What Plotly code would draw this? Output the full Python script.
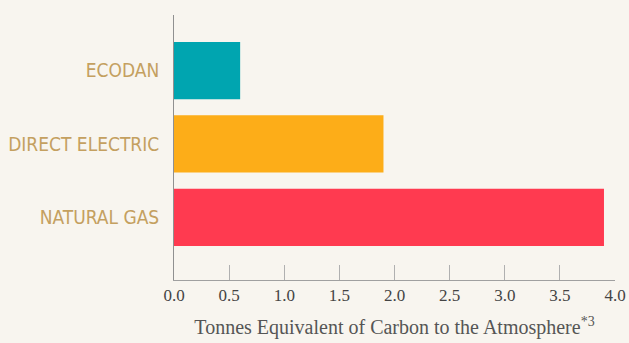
import plotly.graph_objects as go

categories = ["NATURAL GAS", "DIRECT ELECTRIC", "ECODAN"]
values = [3.9, 1.9, 0.6]
colors = ["#ff3a50", "#fdad18", "#00a5b0"]
tick_vals = [0, 0.5, 1, 1.5, 2, 2.5, 3, 3.5, 4]
tick_text = ["0.0", "0.5", "1.0", "1.5", "2.0", "2.5", "3.0", "3.5", "4.0"]
x_title = "Tonnes Equivalent of Carbon to the Atmosphere<sup>*3</sup>"

bg = "#f8f5ef"

fig = go.Figure(go.Bar(
    x=values, y=categories, orientation="h",
    marker=dict(color=colors, line=dict(width=0)),
    hoverinfo="skip",
))

fig.update_layout(
    width=629, height=343,
    margin=dict(l=174, r=14, t=15, b=63),
    paper_bgcolor=bg, plot_bgcolor=bg,
    bargap=0.22,
    showlegend=False,
)

fig.update_xaxes(
    range=[0, 4.0], tickvals=tick_vals, ticktext=tick_text,
    showgrid=False, zeroline=False, automargin=False,
    showline=True, linecolor="#a0a0a0", linewidth=1,
    ticks="inside", ticklen=15, tickcolor="#b0b0b0", tickwidth=1,
    tickfont=dict(family="Liberation Serif", size=17, color="#444444"),
    title=dict(text=x_title, font=dict(family="Liberation Serif", size=20, color="#555555"), standoff=15),
)

fig.update_yaxes(
    range=[-0.853, 2.757],
    showgrid=False, zeroline=False, automargin=False,
    showline=True, linecolor="#909090", linewidth=1,
    ticks="", ticklabelstandoff=10,
    tickfont=dict(family="Liberation Sans Narrow, DejaVu Sans Condensed, sans-serif", size=19, color="#c4a060"),
)

fig.write_html("out.html")
